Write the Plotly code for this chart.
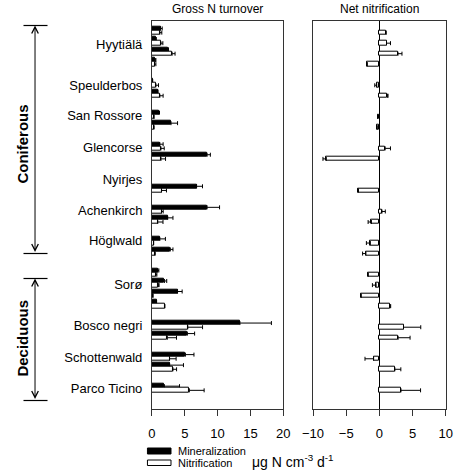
import plotly.graph_objects as go

W, H = 460, 472

sites = ["Hyytiälä", "Speulderbos", "San Rossore", "Glencorse", "Nyirjes", "Achenkirch",
         "Höglwald", "Sorø", "Bosco negri", "Schottenwald", "Parco Ticino"]
site_label_row = [1.28, 5.18, 8.03, 11.07, 14.14, 17.13, 20.0, 24.1, 28.06, 31.06, 34.0]

# row (plot) index of each measured plot, top to bottom
row = [0, 1, 2, 3, 5, 6, 8, 9, 11, 12, 15, 17, 18, 20, 21, 23, 24, 25, 26, 28, 29, 31, 32, 34]

mineralization = [1.3, 0.6, 2.5, 0.5, 0.1, 0.9, 1.0, 2.9, 1.2, 8.4, 6.8, 8.4, 2.4, 1.2, 2.8,
                  0.9, 1.9, 3.9, 0.7, 13.4, 5.4, 5.1, 2.7, 1.9]
mineralization_err = [0.26, 0.05, 0.0, 0.1, 0.0, 0.0, 0.15, 1.0, 0.5, 0.5, 0.9, 1.9, 0.8, 0.85, 0.4,
                      0.15, 0.35, 0.7, 0.0, 4.8, 1.1, 1.3, 2.1, 2.3]

nitrification = [1.2, 1.36, 3.07, 0.4, 0.6, 1.2, 0.3, 0.3, 1.37, 1.37, 1.46, 1.46, 0.88, 0.25, 0.4,
                 0.6, 0.98, 0.15, 1.95, 5.46, 2.34, 2.68, 3.2, 5.7]
nitrification_err = [0.3, 0.3, 0.45, 0.2, 0.4, 0.5, 0.0, 0.0, 0.5, 0.7, 0.75, 0.25, 0.8, 0.0, 0.1,
                     0.15, 0.1, 0.0, 0.0, 2.25, 1.4, 1.0, 0.55, 2.25]

net_nitrification = [1.0, 1.07, 2.8, -1.84, -0.4, 1.2, -0.25, -0.35, 0.87, -8.0, -3.15, 0.39, -1.2,
                     -1.36, -2.03, -1.7, -0.5, -2.76, 1.6, 3.63, 2.82, -0.87, 2.33, 3.25]
net_nitrification_err = [0.0, 0.6, 0.6, 0.0, 0.3, 0.1, 0.0, 0.0, 0.8, 0.5, 0.1, 0.5, 0.5,
                         0.6, 0.5, 0.0, 0.55, 0.0, 0.1, 2.6, 1.8, 1.3, 0.9, 2.95]

left_ticks = [0, 5, 10, 15, 20]
right_ticks = [-10, -5, 0, 5, 10]

FONT = "Liberation Sans, Arial, sans-serif"

def px(x):
    return x / W

def py(y):
    return 1 - y / H

y_min = [r - 0.19 for r in row]
y_nit = [r + 0.205 for r in row]

def plus(vals, errs):
    return [e if v >= 0 else 0 for v, e in zip(vals, errs)]

def minus(vals, errs):
    return [e if v < 0 else 0 for v, e in zip(vals, errs)]

eb = dict(type="data", symmetric=False, color="black", thickness=1, width=2)

fig = go.Figure()
fig.add_trace(go.Bar(
    x=mineralization, y=y_min, orientation="h", width=0.38, name="Mineralization",
    marker=dict(color="black", line=dict(color="black", width=1)),
    error_x=dict(eb, array=mineralization_err, arrayminus=[0] * len(row)),
    xaxis="x", yaxis="y", showlegend=False))
fig.add_trace(go.Bar(
    x=nitrification, y=y_nit, orientation="h", width=0.41, name="Nitrification",
    marker=dict(color="white", line=dict(color="black", width=1)),
    error_x=dict(eb, array=nitrification_err, arrayminus=[0] * len(row)),
    xaxis="x", yaxis="y", showlegend=False))
fig.add_trace(go.Bar(
    x=net_nitrification, y=y_nit, orientation="h", width=0.41, name="Net nitrification",
    marker=dict(color="white", line=dict(color="black", width=1)),
    error_x=dict(eb, array=plus(net_nitrification, net_nitrification_err),
                 arrayminus=minus(net_nitrification, net_nitrification_err)),
    xaxis="x2", yaxis="y2", showlegend=False))

y_dom = [py(409), py(20.7)]
y_rng = [35.98, -0.93]
axis_common = dict(showline=True, mirror=True, linecolor="#333", linewidth=1,
                   showgrid=False, tickfont=dict(size=13, color="black", family=FONT))

fig.update_layout(
    width=W, height=H, margin=dict(l=0, r=0, t=0, b=0),
    paper_bgcolor="white", plot_bgcolor="white",
    barmode="overlay", bargap=0,
    font=dict(family=FONT, color="black"),
    xaxis=dict(axis_common, domain=[px(146.7), px(283.3)], range=[0, 20], tickvals=left_ticks,
               ticks="outside", ticklen=6, tickcolor="#333", zeroline=False, anchor="y",
               ticklabelstandoff=6),
    xaxis2=dict(axis_common, domain=[px(314.3), px(452.5)], range=[-10, 10], tickvals=right_ticks,
                ticks="outside", ticklen=6, tickcolor="#333", zeroline=True, zerolinecolor="black",
                zerolinewidth=1, anchor="y2", ticklabelstandoff=6),
    yaxis=dict(axis_common, domain=y_dom, range=y_rng, tickvals=site_label_row, ticktext=sites,
               ticks="", zeroline=False, anchor="x", ticklabelstandoff=6),
    yaxis2=dict(axis_common, domain=y_dom, range=y_rng, showticklabels=False, ticks="",
                zeroline=False, anchor="x2"),
)

def label(text, x, y, size, xanchor="center", angle=0):
    return dict(text=text, x=px(x), y=py(y), xref="paper", yref="paper", xanchor=xanchor,
                yanchor="middle", textangle=angle, showarrow=False, font=dict(size=size))

ann = [
    label("Gross N turnover", 215, 9, 12),
    label("Net nitrification", 383.4, 9, 12),
    label("μg N cm<sup>-3</sup> d<sup>-1</sup>", 294, 461, 14),
    label("Mineralization", 171.5, 451, 11, xanchor="left"),
    label("Nitrification", 171.5, 463, 11, xanchor="left"),
    label("<b>Coniferous</b>", 11, 144, 15, angle=-90),
    label("<b>Deciduous</b>", 11, 338, 15, angle=-90),
]

for top, bot in [(25.5, 253.5), (278.5, 400.5)]:
    ann.append(dict(text="", x=px(25), y=py(top), xref="paper", yref="paper",
                    ax=0, ay=bot - top, axref="pixel", ayref="pixel",
                    showarrow=True, arrowside="end+start", arrowhead=5, startarrowhead=5,
                    arrowsize=1.3, startarrowsize=1.3, arrowwidth=1, arrowcolor="black",
                    standoff=0, startstandoff=0))
fig.update_layout(annotations=ann)

shapes = []
for yy in [25.5, 253.5, 278.5, 400.5]:
    shapes.append(dict(type="line", xref="paper", yref="paper", x0=px(13), x1=px(38),
                       y0=py(yy), y1=py(yy), line=dict(color="black", width=1.2)))
shapes.append(dict(type="rect", xref="paper", yref="paper", x0=px(142), x1=px(166.5),
                   y0=py(454), y1=py(448), fillcolor="black", line=dict(color="black", width=1)))
shapes.append(dict(type="rect", xref="paper", yref="paper", x0=px(142), x1=px(166.5),
                   y0=py(465.5), y1=py(460), fillcolor="white", line=dict(color="black", width=1)))
fig.update_layout(shapes=shapes)

fig.write_html("out.html")
